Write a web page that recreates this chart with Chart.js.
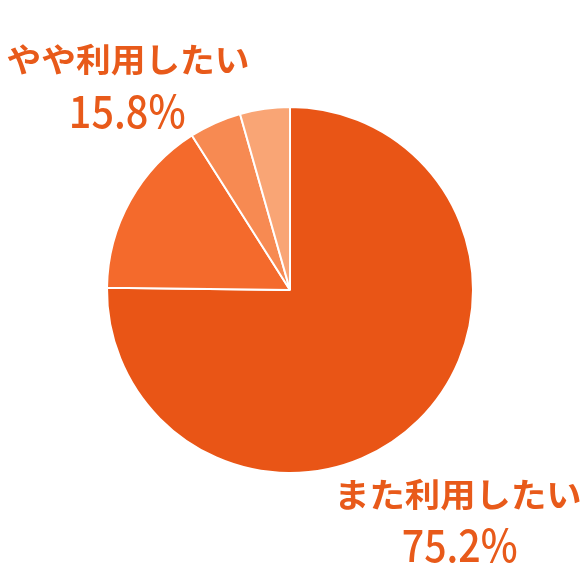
<!DOCTYPE html>
<html><head><meta charset="utf-8">
<script src="https://cdn.jsdelivr.net/npm/chart.js@4/dist/chart.umd.min.js"></script>
<style>html,body{margin:0;padding:0;background:#fff}#wrap{width:580px;height:580px;position:relative}</style>
</head><body><div id="wrap"><canvas id="c" width="580" height="580"></canvas></div>
<script>
const categories = ['また利用したい', 'やや利用したい', 'あまり利用したくない', '利用したくない'];
const values = [75.2, 15.8, 4.6, 4.4];
const colors = ['#E95516', '#F46A2C', '#F78A52', '#F9A575'];
const labelText = [
  {name: categories[1], value: values[1], x: 128, y1: 59, y2: 111},
  {name: categories[0], value: values[0], x: 460, y1: 494, y2: 545}
];
function fitText(ctx, text, cx, cy, font, targetW) {
  ctx.font = font;
  const m = ctx.measureText(text);
  const w = m.actualBoundingBoxLeft + m.actualBoundingBoxRight;
  const sx = targetW / w;
  const asc = m.actualBoundingBoxAscent, desc = m.actualBoundingBoxDescent;
  ctx.save();
  ctx.translate(cx, cy);
  ctx.scale(sx, 1);
  ctx.textAlign = 'left';
  ctx.textBaseline = 'alphabetic';
  ctx.fillText(text, -w / 2 + m.actualBoundingBoxLeft, (asc - desc) / 2);
  ctx.restore();
}
const textPlugin = {
  id: 'txt',
  afterDraw(chart) {
    const ctx = chart.ctx;
    ctx.save();
    ctx.fillStyle = '#E85A1A';
    labelText.forEach(l => {
      fitText(ctx, l.name, l.x, l.y1, 'bold 33px "Noto Sans CJK JP"', 241);
      fitText(ctx, l.value.toFixed(1) + '%', l.x, l.y2, '500 45px "Noto Sans CJK JP"', 113);
    });
    ctx.restore();
  }
};
new Chart(document.getElementById('c'), {
  type: 'pie',
  data: {labels: categories, datasets: [{data: values, backgroundColor: colors, borderColor: '#fff', borderWidth: 2}]},
  options: {
    responsive: false, animation: false,
    layout: {padding: 106},
    plugins: {legend: {display: false}, tooltip: {enabled: false}}
  },
  plugins: [textPlugin]
});
</script></body></html>
